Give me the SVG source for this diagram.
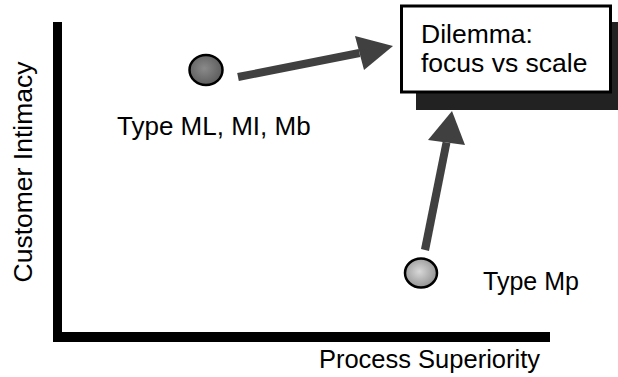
<svg xmlns="http://www.w3.org/2000/svg" width="618" height="377" viewBox="0 0 618 377">
  <style>
    .lbl { font-family: "Liberation Sans", Arial, sans-serif; fill: #000; }
    .axis { fill: #000; }
    .dot { stroke: #000; stroke-width: 2.5; }
    .arrow { fill: #404040; }
  </style>
  <defs>
    <radialGradient id="dotDark" cx="0.45" cy="0.45" r="0.6">
      <stop offset="0" stop-color="#8a8a8a"/>
      <stop offset="1" stop-color="#5a5a5a"/>
    </radialGradient>
    <radialGradient id="dotLight" cx="0.45" cy="0.45" r="0.6">
      <stop offset="0" stop-color="#d8d8d8"/>
      <stop offset="1" stop-color="#8f8f8f"/>
    </radialGradient>
  </defs>

  <!-- axes -->
  <g id="axes">
    <rect class="axis" x="53" y="22" width="9" height="320"/>
    <rect class="axis" x="53" y="332" width="497" height="10"/>
    <text class="lbl" x="540" y="368" font-size="25.5" text-anchor="end">Process Superiority</text>
    <text class="lbl" transform="translate(32,172) rotate(-90)" font-size="26.5" text-anchor="middle">Customer Intimacy</text>
  </g>

  <!-- connectors -->
  <g id="connectors">
    <polygon class="arrow" points="237.2,73.1 238.8,80.9 360.3,56.9 358.7,49.1"/>
    <polygon class="arrow" points="355,36 393,46 364,70"/>
    <polygon class="arrow" points="421,249 429,251 450.4,143.3 442.6,141.7"/>
    <polygon class="arrow" points="428,140 452,111 465,145"/>
  </g>

  <!-- dilemma box -->
  <g id="dilemma">
    <rect x="416" y="22" width="210" height="88" fill="#222"/>
    <rect x="401.5" y="6" width="209" height="86" fill="#fff" stroke="#000" stroke-width="3"/>
    <text class="lbl" x="421" y="43" font-size="26.5">Dilemma:</text>
    <text class="lbl" x="421" y="72" font-size="26.5">focus vs scale</text>
  </g>

  <!-- type ML, MI, Mb -->
  <g id="typeML">
    <ellipse class="dot" cx="206" cy="70" rx="16.5" ry="15" fill="url(#dotDark)"/>
    <text class="lbl" x="117" y="135" font-size="26">Type ML, MI, Mb</text>
  </g>

  <!-- type Mp -->
  <g id="typeMp">
    <ellipse class="dot" cx="421" cy="273" rx="16" ry="14.5" fill="url(#dotLight)"/>
    <text class="lbl" x="483" y="290" font-size="25">Type Mp</text>
  </g>
</svg>
